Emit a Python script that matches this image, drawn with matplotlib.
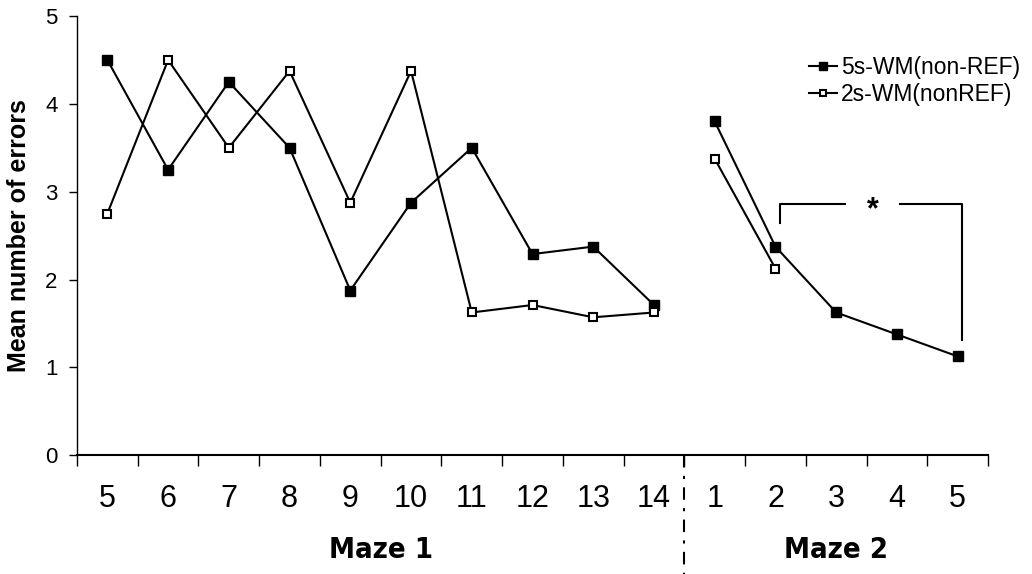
import matplotlib.pyplot as plt
import numpy as np

# session labels: Maze 1 days 5-14, then Maze 2 days 1-5
day_labels = ["5", "6", "7", "8", "9", "10", "11", "12", "13", "14",
              "1", "2", "3", "4", "5"]
maze_names = ["Maze 1", "Maze 2"]
maze1_n = 10

wm5_errors = [4.5, 3.25, 4.25, 3.5, 1.875, 2.875, 3.5, 2.29, 2.375, 1.71,
              3.8, 2.375, 1.625, 1.375, 1.125]
wm2_errors = [2.75, 4.5, 3.5, 4.375, 2.875, 4.375, 1.625, 1.71, 1.57, 1.625,
              3.375, 2.125, np.nan, np.nan, np.nan]

fig = plt.figure(figsize=(10.32, 5.74), dpi=100)
ax = fig.add_axes([0.0746, 0.207, 0.8828, 0.765])

x = np.arange(len(day_labels))
wm5 = np.array(wm5_errors)
wm2 = np.array(wm2_errors)

# two mazes are drawn as separate runs of the line
for sl in (slice(0, maze1_n), slice(maze1_n, None)):
    ax.plot(x[sl], wm5[sl], color="black", lw=1.5, marker="s", ms=7,
            mfc="black", mec="black",
            label="5s-WM(non-REF)" if sl.start == 0 else None)
    ax.plot(x[sl], wm2[sl], color="black", lw=1.5, marker="s", ms=6,
            mfc="white", mec="black", mew=1.5,
            label="2s-WM(nonREF)" if sl.start == 0 else None)

ax.set_xlim(-0.5, len(day_labels) - 0.5)
ax.set_ylim(0, 5)
for s in ("top", "right"):
    ax.spines[s].set_visible(False)
ax.spines["left"].set_linewidth(1.0)
ax.spines["bottom"].set_linewidth(1.5)

ax.set_yticks([0, 1, 2, 3, 4, 5])
ax.tick_params(axis="y", direction="out", length=6, width=1,
               labelsize=16, pad=8)
for t in ax.get_yticklabels():
    t.set_family("Liberation Sans")

# category labels sit between the tick marks
ax.set_xticks(x)
ax.set_xticklabels(day_labels, fontsize=22, family="Liberation Sans")
ax.set_xticks(np.arange(-0.5, len(day_labels)), minor=True)
ax.tick_params(axis="x", which="major", length=0, pad=21)
ax.tick_params(axis="x", which="minor", direction="out", length=8, width=1)

ax.set_ylabel("Mean number of errors", fontsize=18, fontweight="bold",
              family="Liberation Sans", labelpad=10)

# separator between the two mazes
ax.plot([maze1_n - 0.5, maze1_n - 0.5], [0, -1.35], color="black", lw=1.5,
        ls=(0, (6, 4, 1.5, 4)), clip_on=False)

for name, xc in zip(maze_names, [(maze1_n - 1) / 2,
                                 (maze1_n + len(day_labels) - 1) / 2]):
    ax.text(xc, -1.08, name, ha="center", va="center", fontsize=21,
            fontweight="bold", family="DejaVu Sans", fontstretch="condensed")

# significance bracket between Maze 2 day 2 and day 5
bx0, bx1, by = 11.07, 14.07, 2.86
ax.plot([bx0, bx0, 12.15], [2.64, by, by], color="black", lw=1.5)
ax.plot([13.05, bx1, bx1], [by, by, 1.31], color="black", lw=1.5)
ax.text(12.6, by - 0.07, "*", ha="center", va="center", fontsize=22,
        fontweight="bold", family="Liberation Sans")

leg = ax.legend(loc="upper left", bbox_to_anchor=(0.803, 0.91), frameon=False,
                prop={"family": "Liberation Sans", "size": 16.5},
                handlelength=1.25, handletextpad=0.18, labelspacing=0.2,
                borderaxespad=0, markerscale=0.75, borderpad=0)

fig.savefig("out.png", dpi=100)
